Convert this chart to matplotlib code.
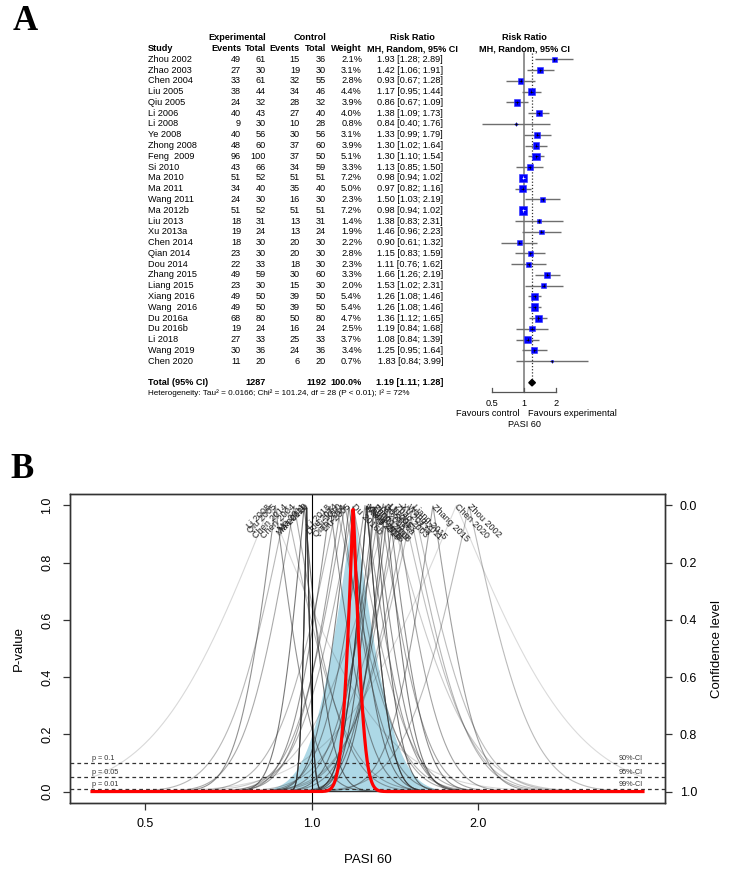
import math
import numpy as np
import matplotlib
matplotlib.use('Agg')
import matplotlib.pyplot as plt
from matplotlib import font_manager

# ---- data ----
studies = ['Zhou 2002', 'Zhao 2003', 'Chen 2004', 'Liu 2005', 'Qiu 2005', 'Li 2006', 'Li 2008',
           'Ye 2008', 'Zhong 2008', 'Feng  2009', 'Si 2010', 'Ma 2010', 'Ma 2011', 'Wang 2011',
           'Ma 2012b', 'Liu 2013', 'Xu 2013a', 'Chen 2014', 'Qian 2014', 'Dou 2014', 'Zhang 2015',
           'Liang 2015', 'Xiang 2016', 'Wang  2016', 'Du 2016a', 'Du 2016b', 'Li 2018', 'Wang 2019',
           'Chen 2020']
exp_events = [49, 27, 33, 38, 24, 40, 9, 40, 48, 96, 43, 51, 34, 24, 51, 18, 19, 18, 23, 22, 49, 23, 49, 49, 68, 19, 27, 30, 11]
exp_total = [61, 30, 61, 44, 32, 43, 30, 56, 60, 100, 66, 52, 40, 30, 52, 31, 24, 30, 30, 33, 59, 30, 50, 50, 80, 24, 33, 36, 20]
ctrl_events = [15, 19, 32, 34, 28, 27, 10, 30, 37, 37, 34, 51, 35, 16, 51, 13, 13, 20, 20, 18, 30, 15, 39, 39, 50, 16, 25, 24, 6]
ctrl_total = [36, 30, 55, 46, 32, 40, 28, 56, 60, 50, 59, 51, 40, 30, 51, 31, 24, 30, 30, 30, 60, 30, 50, 50, 80, 24, 33, 36, 20]
weight = [2.1, 3.1, 2.8, 4.4, 3.9, 4.0, 0.8, 3.1, 3.9, 5.1, 3.3, 7.2, 5.0, 2.3, 7.2, 1.4, 1.9, 2.2, 2.8, 2.3, 3.3, 2.0, 5.4, 5.4, 4.7, 2.5, 3.7, 3.4, 0.7]
rr = [1.93, 1.42, 0.93, 1.17, 0.86, 1.38, 0.84, 1.33, 1.30, 1.30, 1.13, 0.98, 0.97, 1.50, 0.98, 1.38, 1.46, 0.90, 1.15, 1.11, 1.66, 1.53, 1.26, 1.26, 1.36, 1.19, 1.08, 1.25, 1.83]
rr_lo = [1.28, 1.06, 0.67, 0.95, 0.67, 1.09, 0.40, 0.99, 1.02, 1.10, 0.85, 0.94, 0.82, 1.03, 0.94, 0.83, 0.96, 0.61, 0.83, 0.76, 1.26, 1.02, 1.08, 1.08, 1.12, 0.84, 0.84, 0.95, 0.84]
rr_hi = [2.89, 1.91, 1.28, 1.44, 1.09, 1.73, 1.76, 1.79, 1.64, 1.54, 1.50, 1.02, 1.16, 2.19, 1.02, 2.31, 2.23, 1.32, 1.59, 1.62, 2.19, 2.31, 1.46, 1.46, 1.65, 1.68, 1.39, 1.64, 3.99]
pooled = 1.19
pooled_lo = 1.11
pooled_hi = 1.28
tau2 = 0.0166
total_exp = 1287
total_ctrl = 1192
total_weight = 100.0
heterogeneity = 'Heterogeneity: Tau² = 0.0166; Chi² = 101.24, df = 28 (P < 0.01); I² = 72%'
forest_ticks = [0.5, 1, 2]
drapery_xticks = [0.5, 1.0, 2.0]
p_levels = [0.1, 0.05, 0.01]
p_labels = ['p = 0.1', 'p = 0.05', 'p = 0.01']
ci_labels = ['90%-CI', '95%-CI', '99%-CI']
pvalue_ticks = [0.0, 0.2, 0.4, 0.6, 0.8, 1.0]

# ---- fonts ----
names = {f.name for f in font_manager.fontManager.ttflist}
if 'Liberation Sans Narrow' in names:
    sans, k = 'Liberation Sans Narrow', 1.09
else:
    sans, k = 'Liberation Sans', 1.0
plt.rcParams['font.family'] = [sans, 'DejaVu Sans']

W, H = 737, 873
fig = plt.figure(figsize=(W / 100, H / 100), dpi=100)


def box(x0, y0, x1, y1):
    # pixel box (top-left origin) -> figure fraction
    return [x0 / W, 1 - y1 / H, (x1 - x0) / W, (y1 - y0) / H]


# ================= panel A: forest plot =================
row0, row_h = 59.3, 10.78
r_top, r_bot = -3, 34
y0_px, y1_px = row0 + r_top * row_h, row0 + r_bot * row_h
rows = np.arange(len(studies))
r_total, r_het = 30, 31
fs = 6.6 * k

ax_t = fig.add_axes(box(140, y0_px, 470, y1_px))
ax_t.set_xlim(140, 470)
ax_t.set_ylim(r_bot, r_top)
ax_t.axis('off')

c_study, c_ee, c_et, c_ce, c_ct, c_w, c_rr = 148, 241, 266, 300, 326, 362, 443

ax_t.text(c_et, -2, 'Experimental', ha='right', va='center', fontsize=fs, fontweight='bold')
ax_t.text(c_ct, -2, 'Control', ha='right', va='center', fontsize=fs, fontweight='bold')
ax_t.text(412, -2, 'Risk Ratio', ha='center', va='center', fontsize=fs, fontweight='bold')
hdr = [(c_study, 'Study', 'left'), (c_ee, 'Events', 'right'), (c_et, 'Total', 'right'),
       (c_ce, 'Events', 'right'), (c_ct, 'Total', 'right'), (c_w, 'Weight', 'right')]
for x, s, ha in hdr:
    ax_t.text(x, -1, s, ha=ha, va='center', fontsize=fs, fontweight='bold')
ax_t.text(412, -1, 'MH, Random, 95% CI', ha='center', va='center', fontsize=fs, fontweight='bold')

for i in rows:
    ax_t.text(c_study, i, studies[i], ha='left', va='center', fontsize=fs)
    ax_t.text(c_ee, i, str(exp_events[i]), ha='right', va='center', fontsize=fs)
    ax_t.text(c_et, i, str(exp_total[i]), ha='right', va='center', fontsize=fs)
    ax_t.text(c_ce, i, str(ctrl_events[i]), ha='right', va='center', fontsize=fs)
    ax_t.text(c_ct, i, str(ctrl_total[i]), ha='right', va='center', fontsize=fs)
    ax_t.text(c_w, i, f'{weight[i]:.1f}%', ha='right', va='center', fontsize=fs)
    ax_t.text(c_rr, i, f'{rr[i]:.2f} [{rr_lo[i]:.2f}; {rr_hi[i]:.2f}]', ha='right', va='center', fontsize=fs)

ax_t.text(c_study, r_total, 'Total (95% CI)', ha='left', va='center', fontsize=fs, fontweight='bold')
ax_t.text(c_et, r_total, str(total_exp), ha='right', va='center', fontsize=fs, fontweight='bold')
ax_t.text(c_ct, r_total, str(total_ctrl), ha='right', va='center', fontsize=fs, fontweight='bold')
ax_t.text(c_w, r_total, f'{total_weight:.1f}%', ha='right', va='center', fontsize=fs, fontweight='bold')
ax_t.text(c_rr, r_total, f'{pooled:.2f} [{pooled_lo:.2f}; {pooled_hi:.2f}]', ha='right', va='center',
          fontsize=fs, fontweight='bold')
ax_t.text(c_study, r_het, heterogeneity, ha='left', va='center', fontsize=5.9 * k)

# forest graphic, log2 x scale: RR=1 at 524 px, 32 px per doubling
null_px, per2 = 524, 32
fx0, fx1 = 460, 610
ax_f = fig.add_axes(box(fx0, y0_px, fx1, y1_px))
ax_f.set_xscale('log', base=2)
ax_f.set_xlim(2 ** ((fx0 - null_px) / per2), 2 ** ((fx1 - null_px) / per2))
ax_f.set_ylim(r_bot, r_top)
ax_f.axis('off')

r_axis = 30.9
ax_f.plot([1, 1], [-0.6, r_axis], color='#8a8a8a', lw=1.3, zorder=1)
ax_f.plot([pooled, pooled], [-0.6, r_total - 0.3], color='#333333', lw=0.9, ls=(0, (1, 1.5)), zorder=1)
ax_f.hlines(rows, rr_lo, rr_hi, color='#6e6e6e', lw=1.0, zorder=2)

side_px = 8.7 * np.sqrt(np.array(weight) / max(weight))
side_pt = side_px * 72 / 100
ax_f.scatter(rr, rows, s=side_pt ** 2, marker='s', color='#0000ff', edgecolors='#3030ff',
             linewidths=0.4, zorder=3)
ci_px = per2 * (np.log2(rr_hi) - np.log2(rr_lo))
cross_col = ['white' if c < s else 'black' for c, s in zip(ci_px, side_px)]
ax_f.scatter(rr, rows, s=5, marker='+', c=cross_col, linewidths=0.5, zorder=4)

ax_f.fill([pooled_lo, pooled, pooled_hi, pooled],
          [r_total, r_total - 0.3, r_total, r_total + 0.3], color='black', zorder=3)

ax_f.plot([min(forest_ticks), max(forest_ticks)], [r_axis, r_axis], color='#555555', lw=0.9)
for t in forest_ticks:
    ax_f.plot([t, t], [r_axis, r_axis - 0.45], color='#555555', lw=0.9)
    ax_f.text(t, r_axis + 1.0, f'{t:g}', ha='center', va='center', fontsize=fs)
ax_f.text(2 ** (-4 / per2), r_axis + 1.95, 'Favours control', ha='right', va='center', fontsize=fs)
ax_f.text(2 ** (4 / per2), r_axis + 1.95, 'Favours experimental', ha='left', va='center', fontsize=fs)
ax_f.text(1, r_axis + 2.95, 'PASI 60', ha='center', va='center', fontsize=fs)
ax_f.text(1, -2, 'Risk Ratio', ha='center', va='center', fontsize=fs, fontweight='bold')
ax_f.text(1, -1, 'MH, Random, 95% CI', ha='center', va='center', fontsize=fs, fontweight='bold')

# ================= panel B: drapery plot =================
ax_b = fig.add_axes(box(70, 494, 665, 803))

ln_lo, ln_hi = np.log(min(rr_lo)), np.log(max(rr_hi))
lnx = np.linspace(ln_lo, ln_hi, 1200)
xg = np.exp(lnx)
erfc = np.vectorize(math.erfc)


def pvalue_curve(est, se):
    return erfc(np.abs(lnx - np.log(est)) / se / math.sqrt(2))


se_re = (np.log(pooled_hi) - np.log(pooled_lo)) / (2 * 1.96)
se_pred = math.sqrt(tau2 + se_re ** 2)
ax_b.fill_between(xg, 0, pvalue_curve(pooled, se_pred), color='#add8e6', lw=0, zorder=1)

order = np.argsort(weight)
for i in order:
    se_i = (np.log(rr_hi[i]) - np.log(rr_lo[i])) / (2 * 1.96)
    a = 0.1 + 0.8 * weight[i] / max(weight)
    ax_b.plot(xg, pvalue_curve(rr[i], se_i), color='#333333', alpha=a, lw=0.8, zorder=2)

for i in range(len(studies)):
    left = rr[i] < pooled
    ax_b.text(rr[i], 1.0, studies[i], rotation=45 if left else -45, rotation_mode='anchor',
              ha='right' if left else 'left', va='center', fontsize=6.6 * k, color='#222222', zorder=4)

ax_b.axvline(1, color='black', lw=0.8, zorder=3)
for p, pl, cl in zip(p_levels, p_labels, ci_labels):
    ax_b.axhline(p, color='#333333', lw=0.9, ls=(0, (3, 2.5)), zorder=3)
    ax_b.text(min(rr_lo), p + 0.004, pl, ha='left', va='bottom', fontsize=5.2 * k, color='#333333')
    ax_b.text(max(rr_hi), p + 0.004, cl, ha='right', va='bottom', fontsize=5.2 * k, color='#333333')

ax_b.plot(xg, pvalue_curve(pooled, se_re), color='red', lw=2.3, zorder=5)

ax_b.set_xscale('log')
pad = 0.04 * (ln_hi - ln_lo)
ax_b.set_xlim(math.exp(ln_lo - pad), math.exp(ln_hi + pad))
ax_b.set_ylim(-0.04, 1.04)
ax_b.set_xticks(drapery_xticks)
ax_b.set_xticklabels([f'{t:.1f}' for t in drapery_xticks])
ax_b.xaxis.set_minor_locator(matplotlib.ticker.NullLocator())
ax_b.set_yticks(pvalue_ticks)
ax_b.set_yticklabels([f'{t:.1f}' for t in pvalue_ticks], rotation=90, va='center')
ax_b.tick_params(axis='x', length=5, width=0.9, pad=6, labelsize=9 * k, color='#333333')
ax_b.tick_params(axis='y', length=5, width=0.9, pad=7, labelsize=9 * k, color='#333333')
ax_b.set_xlabel('PASI 60', fontsize=9.5 * k, labelpad=17)
ax_b.set_ylabel('P-value', fontsize=9.5 * k, labelpad=12)
for s in ax_b.spines.values():
    s.set_color('#333333')
    s.set_linewidth(1.0)

ax_r = ax_b.twinx()
ax_r.set_ylim(ax_b.get_ylim())
ax_r.set_yticks([1 - t for t in pvalue_ticks])
ax_r.set_yticklabels([f'{t:.1f}' for t in pvalue_ticks])
ax_r.tick_params(axis='y', length=5, width=0.9, pad=5.5, labelsize=9 * k, color='#333333')
ax_r.set_ylabel('Confidence level', fontsize=9.5 * k, labelpad=10)
for s in ax_r.spines.values():
    s.set_color('#333333')
    s.set_linewidth(1.0)

# panel letters
fig.text(25 / W, 1 - 22 / H, 'A', fontsize=25, fontweight='bold', family='Liberation Serif',
         ha='center', va='center')
fig.text(22 / W, 1 - 470 / H, 'B', fontsize=25, fontweight='bold', family='Liberation Serif',
         ha='center', va='center')

fig.savefig('out.png', dpi=100)
